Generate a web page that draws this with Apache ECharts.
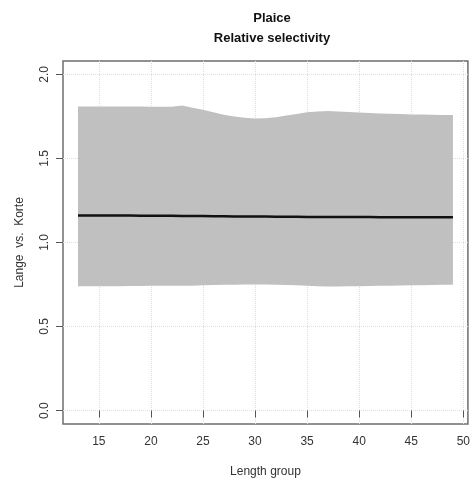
<!DOCTYPE html>
<html>
<head>
<meta charset="utf-8">
<script src="https://cdn.jsdelivr.net/npm/echarts@6/dist/echarts.min.js"></script>
<style>
html, body { margin: 0; padding: 0; background: #fff; }
#chart { width: 473px; height: 484px; }
</style>
</head>
<body>
<div id="chart"></div>
<script>
// length groups and fitted values
const lengths = [13,14,15,16,17,18,19,20,21,22,23,24,25,26,27,28,29,30,31,32,33,34,35,36,37,38,39,40,41,42,43,44,45,46,47,48,49];
const upper = [1.810,1.810,1.810,1.810,1.810,1.810,1.809,1.808,1.808,1.808,1.815,1.802,1.790,1.775,1.760,1.750,1.742,1.738,1.740,1.745,1.755,1.765,1.775,1.780,1.782,1.780,1.777,1.774,1.771,1.768,1.766,1.764,1.762,1.761,1.760,1.759,1.758];
const lower = [0.740,0.740,0.740,0.740,0.740,0.741,0.741,0.742,0.742,0.742,0.742,0.743,0.745,0.747,0.748,0.749,0.750,0.750,0.750,0.749,0.747,0.745,0.742,0.740,0.738,0.738,0.739,0.740,0.741,0.742,0.743,0.744,0.745,0.746,0.747,0.748,0.748];
const ratio = [1.160,1.160,1.160,1.160,1.160,1.160,1.159,1.159,1.159,1.159,1.158,1.158,1.157,1.156,1.156,1.155,1.155,1.154,1.154,1.153,1.153,1.153,1.152,1.152,1.151,1.151,1.151,1.151,1.151,1.150,1.150,1.150,1.150,1.150,1.150,1.150,1.150];
const xTicks = [15,20,25,30,35,40,45,50];
const yTicks = [0,0.5,1,1.5,2];

const chart = echarts.init(document.getElementById('chart'));
const font = '"Liberation Sans", Arial, sans-serif';

chart.setOption({
    animation: false,
    title: {
        text: 'Plaice\nRelative selectivity',
        left: 267,
        top: 3,
        textAlign: 'center',
        textStyle: { fontFamily: font, fontSize: 13, fontWeight: 'bold', color: '#111', lineHeight: 20 }
    },
    grid: {
        left: 63, top: 61, right: 2, bottom: 60,
        show: true, borderColor: '#6e6e6e', borderWidth: 1.5, backgroundColor: 'transparent'
    },
    xAxis: {
        type: 'value',
        min: 11.56, max: 50.44,
        name: 'Length group',
        nameLocation: 'middle',
        nameGap: 42,
        nameTextStyle: { fontFamily: font, fontSize: 12, color: '#333' },
        axisLine: { show: false },
        axisTick: { show: true, customValues: xTicks, length: 7, inside: false, lineStyle: { color: '#555' } },
        axisLabel: { customValues: xTicks, fontFamily: font, fontSize: 12, color: '#333', margin: 12 },
        splitLine: { show: true, lineStyle: { color: '#dedede', type: 'dotted', width: 1 } }
    },
    yAxis: {
        type: 'value',
        min: -0.08, max: 2.08,
        name: 'Lange  vs.  Korte',
        nameLocation: 'middle',
        nameGap: 37,
        nameTextStyle: { fontFamily: font, fontSize: 12, color: '#333' },
        axisLine: { show: false },
        axisTick: { show: true, customValues: yTicks, length: 7, inside: false, lineStyle: { color: '#555' } },
        axisLabel: {
            customValues: yTicks, rotate: 90, fontFamily: font, fontSize: 12, color: '#333', margin: 12,
            formatter: v => v.toFixed(1)
        },
        splitLine: { show: true, lineStyle: { color: '#dedede', type: 'dotted', width: 1 } }
    },
    series: [{
        type: 'custom',
        data: [0],
        z: 2,
        renderItem: (params, api) => {
            const pts = [];
            lengths.forEach((x, i) => pts.push(api.coord([x, upper[i]])));
            for (let i = lengths.length - 1; i >= 0; i--) pts.push(api.coord([lengths[i], lower[i]]));
            return {
                type: 'polygon',
                shape: { points: pts },
                style: { fill: '#c0c0c0', stroke: null }
            };
        }
    }, {
        type: 'line',
        data: lengths.map((x, i) => [x, ratio[i]]),
        showSymbol: false,
        z: 3,
        lineStyle: { color: '#111', width: 2.5 }
    }]
});
</script>
</body>
</html>
